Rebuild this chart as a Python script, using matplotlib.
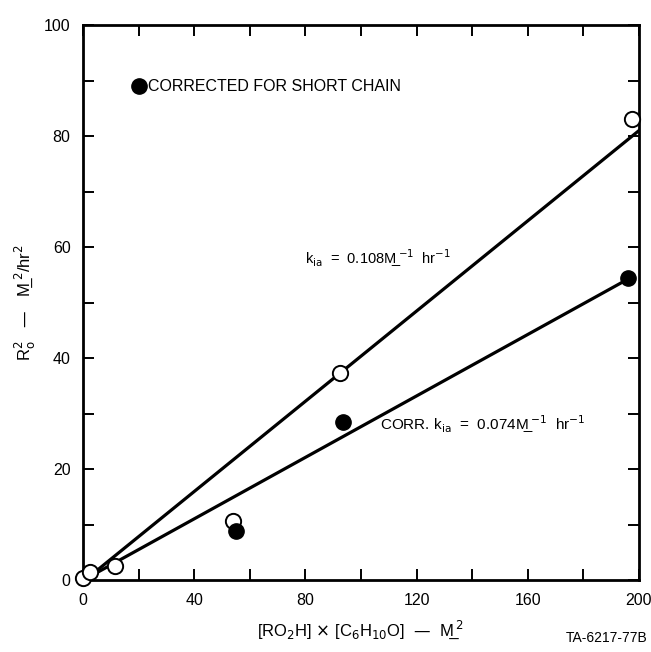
import matplotlib
matplotlib.use('Agg')
import matplotlib.pyplot as plt
from matplotlib.ticker import MultipleLocator

plt.rcParams['font.family'] = ['Liberation Sans', 'DejaVu Sans']

# uncorrected data (open circles)
x_open = [0, 2.5, 11.5, 54, 92.5, 197.5]
y_open = [0.3, 1.4, 2.6, 10.6, 37.3, 83]
# corrected for short chain (filled circles)
x_corr = [55, 93.5, 196]
y_corr = [8.8, 28.5, 54.5]

# fitted lines
fit_open_x = [2, 200]
fit_open_y = [0.5, 81]
fit_corr_x = [2, 197]
fit_corr_y = [0.5, 54.5]

M_ = 'M\u0332'  # underlined M (molar)

fig = plt.figure(figsize=(6.51, 6.52), dpi=100)
ax = fig.add_axes([0.1275, 0.1104, 0.854, 0.851])

ax.plot(fit_open_x, fit_open_y, color='black', lw=2.3, zorder=2)
ax.plot(fit_corr_x, fit_corr_y, color='black', lw=2.3, zorder=2)
ax.plot(x_open, y_open, 'o', ms=11, mfc='white', mec='black', mew=1.4, zorder=3, clip_on=False)
ax.plot(x_corr, y_corr, 'o', ms=11, mfc='black', mec='black', zorder=4, clip_on=False)

# legend-like note
ax.plot([20], [89], 'o', ms=11, color='black')
ax.text(23.5, 89, 'CORRECTED FOR SHORT CHAIN', fontsize=11.5, va='center')

ax.text(80, 58, r'k$_{\mathrm{ia}}$  =  0.108' + M_ + r'$\,^{-1}$  hr$^{-1}$', fontsize=10.5, va='center')
ax.text(107, 28, r'CORR. k$_{\mathrm{ia}}$  =  0.074' + M_ + r'$\,^{-1}$  hr$^{-1}$', fontsize=11, va='center')

ax.set_xlim(0, 200)
ax.set_ylim(0, 100)
ax.xaxis.set_major_locator(MultipleLocator(40))
ax.xaxis.set_minor_locator(MultipleLocator(20))
ax.yaxis.set_major_locator(MultipleLocator(20))
ax.yaxis.set_minor_locator(MultipleLocator(10))
ax.tick_params(which='both', direction='in', top=True, right=True, width=1.4, labelsize=11.5)
ax.tick_params(which='major', length=8, pad=9)
ax.tick_params(which='minor', length=8)
for s in ax.spines.values():
    s.set_linewidth(2)

ax.set_xlabel(r'[RO$_2$H] $\times$ [C$_6$H$_{10}$O]  —  ' + M_ + r'$\,^2$', fontsize=12, labelpad=8)
ax.set_ylabel(r'R$_\mathrm{o}^2$   —   ' + M_ + r'$\,^2$/hr$^2$', fontsize=12, labelpad=4)

fig.text(0.995, 0.01, 'TA-6217-77B', ha='right', va='bottom', fontsize=10)

fig.savefig('out.png', dpi=100)
